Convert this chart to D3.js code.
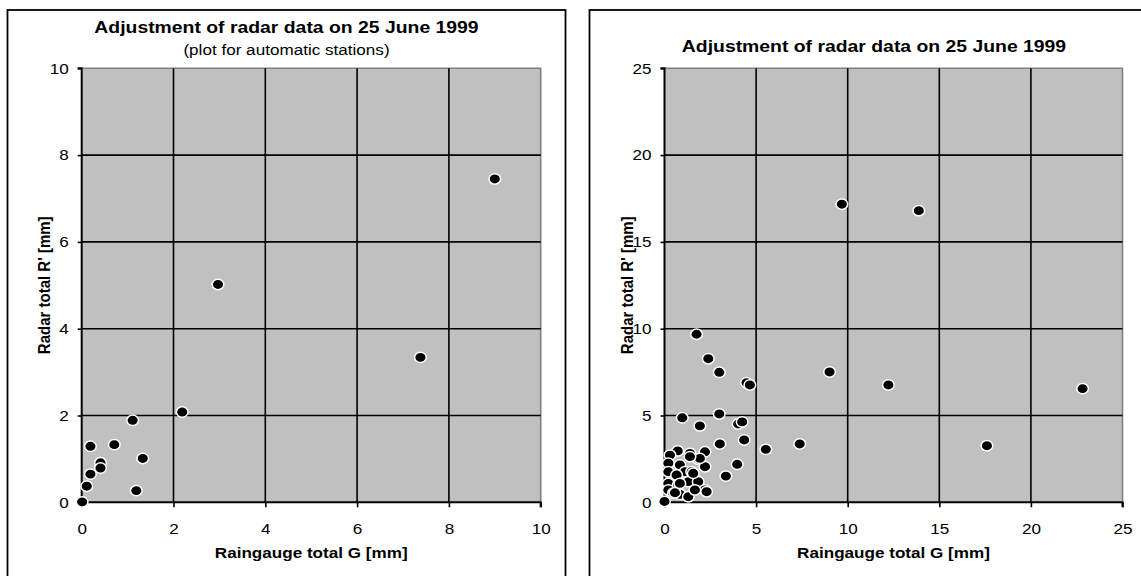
<!DOCTYPE html>
<html><head><meta charset="utf-8">
<script src="https://cdn.jsdelivr.net/npm/d3@7"></script>
<style>
html,body{margin:0;padding:0;background:#fff;}
svg{display:block;font-family:"Liberation Sans",Arial,sans-serif;}
</style></head>
<body>
<svg id="c" width="1141" height="576"></svg>
<script>
// ---- DATA ----
const chartTitle = "Adjustment of radar data on 25 June 1999";
const leftSubtitle = "(plot for automatic stations)";
const xAxisTitle = "Raingauge total G [mm]";
const yAxisTitle = "Radar total R' [mm]";

const leftTicks = [0, 2, 4, 6, 8, 10];
const rightTicks = [0, 5, 10, 15, 20, 25];

// automatic stations: raingauge G, radar R'
const autoG = [0.01, 0.11, 0.19, 0.19, 0.41, 0.41, 0.71, 1.11, 1.33, 1.19, 2.19, 2.97, 7.38, 9.0];
const autoR = [0.01, 0.37, 0.65, 1.29, 0.91, 0.79, 1.33, 1.89, 1.01, 0.27, 2.08, 5.02, 3.34, 7.45];

// all stations
const allG = [9.68, 13.88, 12.22, 22.82, 17.6,
  1.75, 2.39, 2.99, 4.48, 4.66, 9.01, 0.97, 2.99, 1.93, 4.02, 4.24, 4.35, 3.02, 5.53, 7.38, 3.97, 3.35,
  0.0, 0.72, 0.30, 1.39, 2.21, 1.84, 0.21, 0.84, 2.21, 1.12, 0.21, 1.48, 0.66, 0.21, 1.30, 1.84,
  0.75, 0.21, 0.84, 1.30, 0.48, 2.21, 1.66, 1.93, 2.30, 0.57, 1.57, 0.84, 1.39];
const allR = [17.17, 16.8, 6.76, 6.55, 3.26,
  9.68, 8.27, 7.49, 6.89, 6.76, 7.51, 4.87, 5.09, 4.40, 4.51, 4.63, 3.59, 3.36, 3.05, 3.36, 2.19, 1.51,
  0.05, 2.96, 2.72, 2.82, 2.91, 2.49, 2.25, 2.15, 2.05, 1.76, 1.76, 1.76, 1.57, 1.09, 1.19, 1.19,
  1.00, 0.71, 0.46, 0.32, 0.52, 0.71, 0.71, 2.53, 0.61, 0.55, 1.67, 1.09, 2.63];

// ---- DRAW ----
const SX = 1.14; // horizontal stretch of the original picture
const svg = d3.select("#c");
const PT = 68.3, PB = 502.3;

function panel(opt) {
  const g = svg.append("g");
  g.append("rect").attr("x", opt.fx).attr("y", 10).attr("width", opt.fw).attr("height", 620)
    .attr("fill", "#fff").attr("stroke", "#000").attr("stroke-width", 1.8);

  const x = d3.scaleLinear().domain([0, opt.max]).range([opt.px0, opt.px1]);
  const y = d3.scaleLinear().domain([0, opt.max]).range([PB, PT]);

  g.append("rect").attr("x", opt.px0).attr("y", PT).attr("width", opt.px1 - opt.px0).attr("height", PB - PT)
    .attr("fill", "#c0c0c0");
  g.append("path").attr("d", `M${opt.px0},${PT}H${opt.px1}V${PB}`).attr("fill", "none")
    .attr("stroke", "#808080").attr("stroke-width", 1.6);

  const inner = opt.ticks.slice(1, -1);
  g.selectAll(".vg").data(inner).join("line")
    .attr("x1", d => x(d)).attr("x2", d => x(d)).attr("y1", PT).attr("y2", PB)
    .attr("stroke", "#000").attr("stroke-width", 1.6);
  g.selectAll(".hg").data(inner).join("line")
    .attr("y1", d => y(d)).attr("y2", d => y(d)).attr("x1", opt.px0).attr("x2", opt.px1)
    .attr("stroke", "#000").attr("stroke-width", 1.6);

  const xa = g.append("g").attr("transform", `translate(0,${PB})`)
    .call(d3.axisBottom(x).tickValues(opt.ticks).tickSize(5).tickPadding(16.5).tickFormat(d3.format("d")));
  const ya = g.append("g").attr("transform", `translate(${opt.px0},0)`)
    .call(d3.axisLeft(y).tickValues(opt.ticks).tickSize(4).tickPadding(9).tickFormat(d3.format("d")));
  [xa, ya].forEach(a => {
    a.select(".domain").attr("stroke", "#000").attr("stroke-width", 2);
    a.selectAll(".tick line").attr("stroke", "#000").attr("stroke-width", 1.6);
    a.selectAll(".tick text").attr("fill", "#000").style("font-size", "15px")
      .style("font-family", "'Liberation Sans',Arial,sans-serif");
  });
  xa.selectAll(".tick text").attr("transform", `scale(${SX},1)`);
  ya.selectAll(".tick text").attr("x", -13 / SX).attr("transform", `scale(${SX},1)`);
  xa.select(".domain").attr("d", `M${opt.px0},5V0H${opt.px1}V5`);
  ya.select(".domain").attr("d", `M-4,${y(opt.max)}H0V${y(0)}`);

  g.selectAll(".pt").data(opt.gx.map((v, i) => [v, opt.ry[i]])).join("ellipse")
    .attr("cx", d => x(d[0])).attr("cy", d => y(d[1])).attr("rx", 5.8).attr("ry", 5.2)
    .attr("fill", "#000").attr("stroke", "#fff").attr("stroke-width", 1.5);

  const cx = (opt.fx + opt.fx + opt.fw) / 2;
  g.append("text").attr("transform", `translate(${opt.tcx || cx},${opt.titleY}) scale(${SX},1)`)
    .attr("text-anchor", "middle").style("font-weight", "bold").style("font-size", "17px").text(chartTitle);
  if (opt.sub) {
    g.append("text").attr("transform", `translate(${cx},54.5) scale(${SX},1)`)
      .attr("text-anchor", "middle").style("font-size", "15px").text(opt.sub);
  }
  g.append("text").attr("transform", `translate(${(opt.px0 + opt.px1) / 2},557.5) scale(${SX},1)`)
    .attr("text-anchor", "middle").style("font-weight", "bold").style("font-size", "15px").text(xAxisTitle);
  g.append("text").attr("transform", `translate(${opt.px0 - 32},${(PT + PB) / 2}) scale(${SX},1) rotate(-90)`)
    .attr("text-anchor", "middle").style("font-weight", "bold").style("font-size", "15px").text(yAxisTitle);
}

panel({fx: 7.5, fw: 558, px0: 81.7, px1: 540.7, max: 10, ticks: leftTicks,
  gx: autoG, ry: autoR, titleY: 33, sub: leftSubtitle});
panel({fx: 589.5, fw: 600, px0: 664.5, px1: 1122.5, max: 25, ticks: rightTicks,
  gx: allG, ry: allR, titleY: 52, tcx: 874, sub: null});
</script>
</body></html>
